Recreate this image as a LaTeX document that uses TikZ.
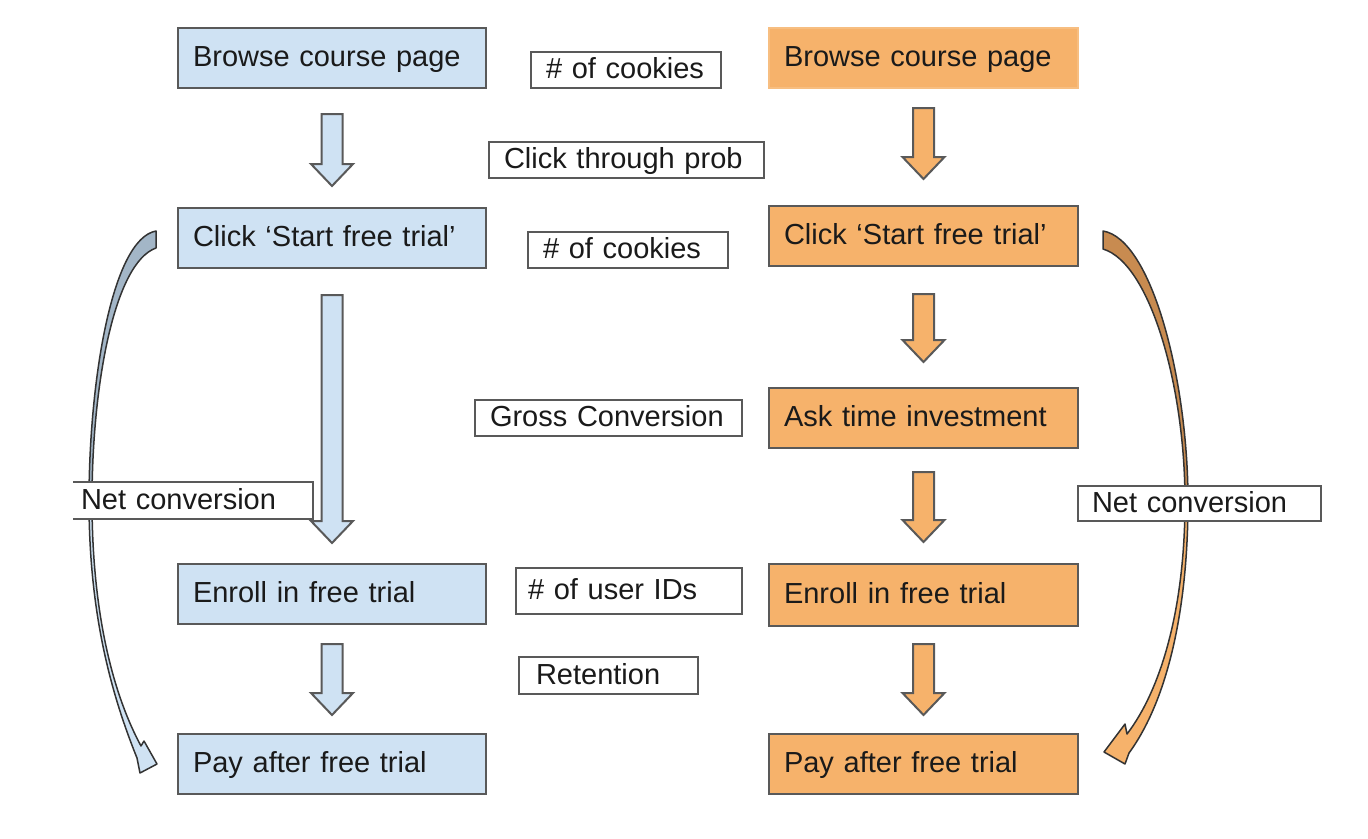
\documentclass[tikz,border=0pt]{standalone}
\usepackage{fontspec}
\setmainfont{Liberation Sans}
\usetikzlibrary{calc}

\definecolor{bluefill}{HTML}{CFE2F3}
\definecolor{orangefill}{HTML}{F6B26B}
\definecolor{edgegray}{HTML}{595959}
\definecolor{bluedark}{HTML}{A3B6C7}
\definecolor{orangedark}{HTML}{C88B50}
\definecolor{inkcol}{HTML}{1A1A1A}

% keep a label on one line
\newcommand\oneline[1]{\mbox{#1}}

% down-pointing block arrow between two stage boxes:
% #1 fill, #2 source node, #3 target node, #4 gap below source, #5 gap above target
\newcommand\flowarrow[5]{%
  \draw[blockarrow, fill=#1] let \p1=(#2.south), \p2=(#3.north) in
    (\x1-10.5pt,\y1-#4) -- (\x1+10.5pt,\y1-#4) -- (\x1+10.5pt,\y2+#5+22pt)
    -- (\x1+21pt,\y2+#5+22pt) -- (\x1,\y2+#5) -- (\x1-21pt,\y2+#5+22pt)
    -- (\x1-10.5pt,\y2+#5+22pt) -- cycle;}

\begin{document}
\begin{tikzpicture}[x=1pt,y=-1pt,
  every node/.style={font=\fontsize{29}{34}\selectfont, text=inkcol,
    text height=22pt, text depth=5pt},
  stagebox/.style={anchor=north west, line width=2pt, draw=edgegray,
    minimum height=60pt, text width=278pt, inner xsep=15pt, align=left},
  bluebox/.style={stagebox, fill=bluefill},
  orangebox/.style={stagebox, fill=orangefill, text width=279pt},
  metric/.style={anchor=north west, draw=edgegray, fill=white, line width=2pt,
    align=left, inner xsep=15pt, inner ysep=0pt},
  blockarrow/.style={draw=edgegray, line width=2pt, line join=miter},
  bendarrow/.style={draw=black!80, line width=1.5pt, line join=round}
]
\useasboundingbox (0,0) rectangle (1368,838);

% control group (left column)
\node[bluebox] (lbrowse) at (177,27)  {\oneline{Browse course page}};
\node[bluebox] (lclick)  at (177,207) {\oneline{Click `Start free trial'}};
\node[bluebox] (lenroll) at (177,563) {\oneline{Enroll in free trial}};
\node[bluebox] (lpay)    at (177,733) {\oneline{Pay after free trial}};

% experiment group (right column)
\node[orangebox, draw=orangefill!85!white] (rbrowse) at (768,27) {\oneline{Browse course page}};
\node[orangebox] (rclick)  at (768,205) {\oneline{Click `Start free trial'}};
\node[orangebox] (rask)    at (768,387) {\oneline{Ask time investment}};
\node[orangebox, minimum height=62pt] (renroll) at (768,563) {\oneline{Enroll in free trial}};
\node[orangebox] (rpay)    at (768,733) {\oneline{Pay after free trial}};

% funnel steps
\flowarrow{bluefill}{lbrowse}{lclick}{25pt}{21pt}
\flowarrow{bluefill}{lclick}{lenroll}{26pt}{20pt}
\flowarrow{bluefill}{lenroll}{lpay}{19pt}{18pt}
\flowarrow{orangefill}{rbrowse}{rclick}{19pt}{26pt}
\flowarrow{orangefill}{rclick}{rask}{27pt}{25pt}
\flowarrow{orangefill}{rask}{renroll}{23pt}{21pt}
\flowarrow{orangefill}{renroll}{rpay}{17pt}{18pt}

% net conversion, control
\begin{scope}[shift={($(lclick.west)-(177,237)$)}]
  \filldraw[bendarrow, fill=bluedark]
    (156,230) .. controls (112,238) and (89,380) .. (89,500)
    -- (92,500) .. controls (92,385) and (114,262) .. (156,247) -- cycle;
  \filldraw[bendarrow, fill=bluefill]
    (89,500) .. controls (89,610) and (110,690) .. (137,757)
    -- (140,772) -- (157,763) -- (144,740) -- (141,745)
    .. controls (114,695) and (92,615) .. (92,500) -- cycle;
\end{scope}

% net conversion, experiment
\begin{scope}[shift={($(rclick.east)-(1077,235)$)}]
  \filldraw[bendarrow, fill=orangedark]
    (1101,230) .. controls (1150,238) and (1186,380) .. (1186,500)
    -- (1183,500) .. controls (1183,385) and (1148,262) .. (1101,248) -- cycle;
  \filldraw[bendarrow, fill=orangefill]
    (1186,500) .. controls (1186,610) and (1165,700) .. (1127,752)
    -- (1123,763) -- (1102,751) -- (1123,723) -- (1125,733)
    .. controls (1158,690) and (1183,610) .. (1183,500) -- cycle;
\end{scope}

% metrics
\node[metric, minimum height=36pt, text width=160pt] (cookiesA) at (530,51) {\oneline{\# of cookies}};
\node[metric, minimum height=36pt, text width=245pt] (ctp) at (488,141) {\oneline{Click through prob}};
\node[metric, minimum height=36pt, text width=170pt] (cookiesB) at (527,231) {\oneline{\# of cookies}};
\node[metric, minimum height=36pt, text width=237pt] (gross) at (474,399) {\oneline{Gross Conversion}};
\node[metric, minimum height=46pt, text width=202pt, inner xsep=12pt] (users) at (515,567) {\oneline{\# of user IDs}};
\node[metric, minimum height=37pt, text width=145pt, inner xsep=17pt] (retention) at (518,656) {\oneline{Retention}};
\node[metric, draw=none, minimum height=35pt, text width=224pt, inner xsep=7pt] (netl) at (73,482) {\oneline{Net conversion}};
\draw[edgegray, line width=2pt] (netl.north west) -- (netl.north east) -- (netl.south east) -- (netl.south west);
\node[metric, minimum height=35pt, text width=215pt, inner xsep=14pt] (netr) at (1077,485) {\oneline{Net conversion}};
\end{tikzpicture}
\end{document}
